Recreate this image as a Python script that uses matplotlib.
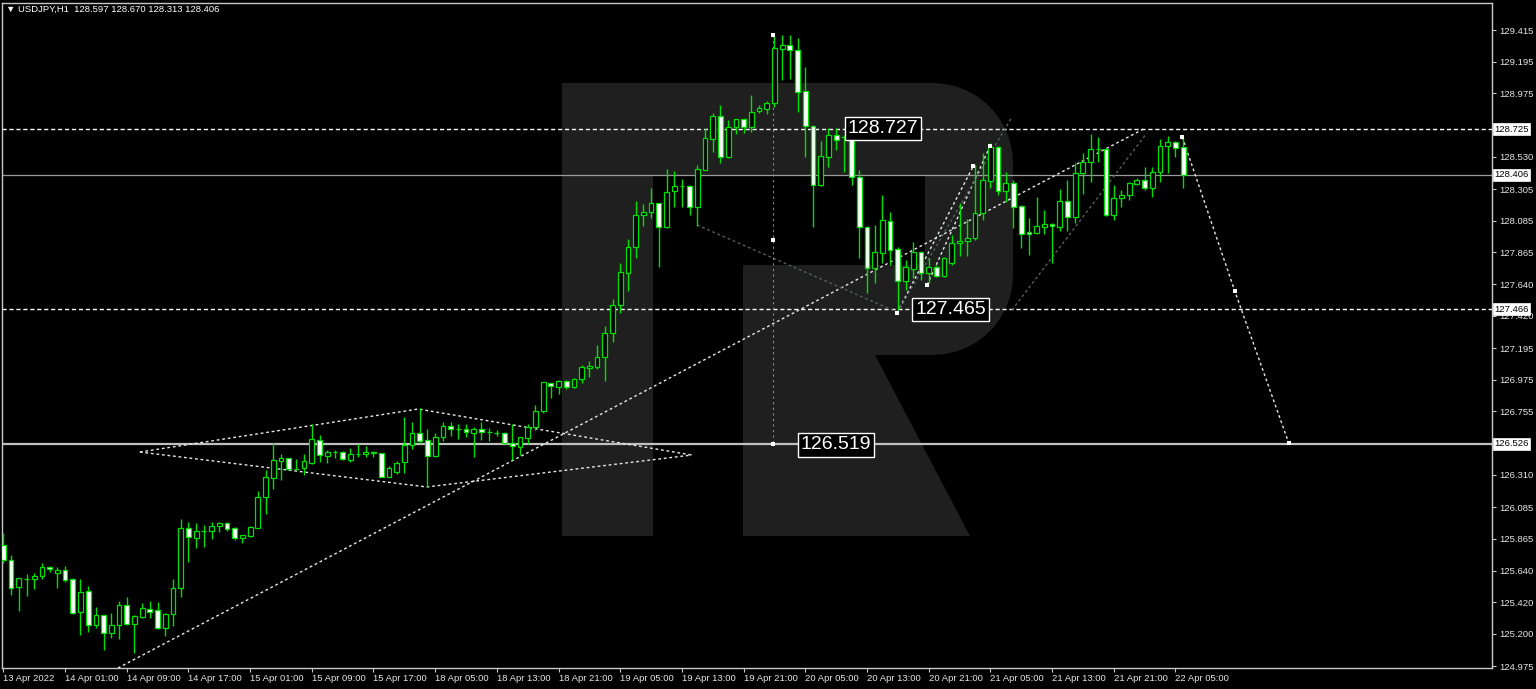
import matplotlib
matplotlib.use("Agg")
import matplotlib.pyplot as plt
import numpy as np
from matplotlib import font_manager
from matplotlib.patches import Polygon
from matplotlib.transforms import Affine2D, blended_transform_factory

W, H = 1536, 689

# USDJPY H1 candles, one per hour (bar index 0 = 13 Apr 2022 17:00)
opens = [125.821, 125.716, 125.528, 125.580, 125.583, 125.604, 125.667, 125.625, 125.646, 125.583,
         125.353, 125.500, 125.262, 125.332, 125.206, 125.262, 125.402, 125.269, 125.318, 125.374,
         125.367, 125.241, 125.339, 125.521, 125.940, 125.870, 125.917, 125.919, 125.954, 125.974,
         125.940, 125.870, 125.884, 125.940, 126.156, 126.289, 126.407, 126.428, 126.350, 126.358,
         126.393, 126.554, 126.442, 126.468, 126.470, 126.414, 126.454, 126.456, 126.470, 126.463,
         126.296, 126.330, 126.400, 126.519, 126.603, 126.554, 126.442, 126.575, 126.652, 126.630,
         126.631, 126.603, 126.631, 126.608, 126.601, 126.603, 126.533, 126.505, 126.568, 126.645,
         126.756, 126.952, 126.924, 126.966, 126.924, 126.980, 127.056, 127.063, 127.133, 127.301,
         127.496, 127.720, 127.901, 128.125, 128.145, 128.208, 128.041, 128.292, 128.325, 128.327,
         128.181, 128.439, 128.655, 128.816, 128.529, 128.739, 128.795, 128.739, 128.851, 128.865,
         128.906, 129.283, 129.311, 129.276, 128.990, 128.746, 128.334, 128.529, 128.683, 128.667,
         128.662, 128.390, 128.041, 127.755, 127.859, 128.083, 127.887, 127.664, 127.748, 127.866,
         127.720, 127.762, 127.699, 127.789, 127.929, 127.943, 127.964, 128.138, 128.362, 128.599,
         128.292, 128.348, 128.188, 128.006, 127.999, 128.041, 128.062, 128.041, 128.222, 128.111,
         128.418, 128.495, 128.583, 128.585, 128.125, 128.243, 128.264, 128.341, 128.369, 128.313,
         128.425, 128.606, 128.634, 128.597]
highs = [125.905, 125.751, 125.592, 125.618, 125.625, 125.695, 125.674, 125.667, 125.674, 125.590,
         125.583, 125.535, 125.388, 125.335, 125.346, 125.430, 125.458, 125.332, 125.416, 125.430,
         125.423, 125.346, 125.583, 126.002, 125.981, 125.974, 125.960, 125.981, 125.981, 125.981,
         125.947, 125.893, 125.954, 126.198, 126.345, 126.533, 126.456, 126.430, 126.421, 126.456,
         126.666, 126.589, 126.484, 126.484, 126.474, 126.498, 126.526, 126.512, 126.477, 126.466,
         126.372, 126.407, 126.714, 126.680, 126.777, 126.631, 126.603, 126.680, 126.680, 126.666,
         126.666, 126.645, 126.680, 126.638, 126.624, 126.610, 126.666, 126.578, 126.666, 126.798,
         126.962, 126.955, 126.973, 126.973, 126.987, 127.077, 127.105, 127.217, 127.350, 127.538,
         127.790, 127.957, 128.222, 128.201, 128.313, 128.212, 128.446, 128.432, 128.376, 128.334,
         128.474, 128.732, 128.837, 128.892, 128.788, 128.798, 128.802, 128.962, 128.892, 128.920,
         129.381, 129.381, 129.381, 129.360, 129.158, 128.750, 128.641, 128.732, 128.732, 128.680,
         128.697, 128.439, 128.045, 128.055, 128.264, 128.145, 127.901, 127.810, 127.936, 127.870,
         127.824, 127.775, 127.831, 127.985, 128.208, 128.097, 128.474, 128.557, 128.627, 128.605,
         128.425, 128.369, 128.194, 128.104, 128.250, 128.160, 128.066, 128.306, 128.369, 128.488,
         128.557, 128.690, 128.669, 128.590, 128.334, 128.299, 128.355, 128.383, 128.460, 128.460,
         128.655, 128.676, 128.640, 128.670]
lows = [125.695, 125.472, 125.360, 125.465, 125.514, 125.583, 125.632, 125.521, 125.562, 125.339,
        125.193, 125.213, 125.241, 125.088, 125.172, 125.165, 125.262, 125.067, 125.311, 125.311,
        125.234, 125.186, 125.255, 125.458, 125.702, 125.800, 125.807, 125.863, 125.912, 125.919,
        125.856, 125.835, 125.877, 125.937, 126.037, 126.212, 126.275, 126.345, 126.343, 126.310,
        126.386, 126.400, 126.393, 126.428, 126.414, 126.400, 126.435, 126.435, 126.435, 126.293,
        126.293, 126.317, 126.324, 126.491, 126.533, 126.226, 126.435, 126.547, 126.582, 126.561,
        126.575, 126.435, 126.554, 126.547, 126.582, 126.526, 126.414, 126.449, 126.526, 126.624,
        126.742, 126.847, 126.875, 126.910, 126.920, 126.952, 126.994, 127.049, 126.966, 127.238,
        127.440, 127.594, 127.824, 128.048, 128.104, 127.762, 128.034, 128.180, 128.180, 128.125,
        128.048, 128.436, 128.564, 128.488, 128.525, 128.690, 128.697, 128.704, 128.837, 128.830,
        128.879, 129.067, 129.074, 128.844, 128.529, 128.041, 128.330, 128.460, 128.578, 128.425,
        128.334, 127.824, 127.580, 127.650, 127.789, 127.775, 127.465, 127.601, 127.685, 127.671,
        127.650, 127.692, 127.692, 127.775, 127.838, 127.838, 127.950, 128.090, 128.313, 128.264,
        128.215, 128.034, 127.894, 127.845, 127.995, 127.992, 127.789, 128.013, 128.013, 128.069,
        128.271, 128.355, 128.495, 128.118, 128.090, 128.181, 128.229, 128.334, 128.299, 128.250,
        128.355, 128.418, 128.529, 128.313]
closes = [125.716, 125.521, 125.590, 125.585, 125.604, 125.667, 125.653, 125.646, 125.576, 125.346,
          125.493, 125.262, 125.332, 125.206, 125.262, 125.402, 125.269, 125.325, 125.381, 125.353,
          125.241, 125.339, 125.521, 125.940, 125.877, 125.919, 125.921, 125.954, 125.974, 125.932,
          125.870, 125.891, 125.947, 126.156, 126.296, 126.414, 126.428, 126.351, 126.352, 126.407,
          126.561, 126.449, 126.470, 126.472, 126.421, 126.456, 126.457, 126.470, 126.463, 126.296,
          126.358, 126.393, 126.519, 126.603, 126.547, 126.442, 126.575, 126.652, 126.631, 126.633,
          126.610, 126.631, 126.610, 126.612, 126.605, 126.533, 126.512, 126.575, 126.645, 126.756,
          126.959, 126.931, 126.966, 126.924, 126.980, 127.063, 127.070, 127.133, 127.301, 127.496,
          127.727, 127.901, 128.125, 128.145, 128.208, 128.041, 128.285, 128.327, 128.329, 128.181,
          128.446, 128.662, 128.816, 128.529, 128.739, 128.795, 128.739, 128.844, 128.872, 128.906,
          129.290, 129.311, 129.276, 128.983, 128.746, 128.334, 128.536, 128.683, 128.648, 128.671,
          128.390, 128.041, 127.755, 127.866, 128.090, 127.880, 127.664, 127.762, 127.866, 127.720,
          127.762, 127.699, 127.824, 127.929, 127.943, 127.964, 128.138, 128.369, 128.599, 128.292,
          128.348, 128.181, 127.992, 127.992, 128.048, 128.062, 128.048, 128.222, 128.111, 128.418,
          128.495, 128.585, 128.587, 128.125, 128.243, 128.264, 128.348, 128.369, 128.313, 128.425,
          128.606, 128.634, 128.592, 128.406]

time_labels = ['13 Apr 2022', '14 Apr 01:00', '14 Apr 09:00', '14 Apr 17:00', '15 Apr 01:00',
               '15 Apr 09:00', '15 Apr 17:00', '18 Apr 05:00', '18 Apr 13:00', '18 Apr 21:00',
               '19 Apr 05:00', '19 Apr 13:00', '19 Apr 21:00', '20 Apr 05:00', '20 Apr 13:00',
               '20 Apr 21:00', '21 Apr 05:00', '21 Apr 13:00', '21 Apr 21:00', '22 Apr 05:00']
price_ticks = [129.415, 129.195, 128.975, 128.530, 128.305, 128.085, 127.865, 127.640, 127.420,
               127.195, 126.975, 126.755, 126.310, 126.085, 125.865, 125.640, 125.420, 125.200, 124.975]

# analysis objects drawn on the chart (bar index, price)
level_hi = 128.725
level_lo = 127.466
level_target = 126.526
bid = 128.406
trend_x, trend_y = [14.86, 148.1], [124.962, 128.732]
diamond_up_x, diamond_up_y = [17.7, 53.8, 89.3], [126.470, 126.770, 126.449]
diamond_dn_x, diamond_dn_y = [17.7, 54.9, 89.3], [126.470, 126.226, 126.449]
fall_x, fall_y = [89.96, 115.9], [128.055, 127.447]
fan1_x, fan1_y = [115.9, 125.8], [127.440, 128.467]
fan2_x, fan2_y = [119.8, 127.96], [127.636, 128.606]
fan3_x, fan3_y = [115.9, 130.8], [127.440, 128.809]
chan_x, chan_y = [130.8, 148.3], [127.461, 128.697]
proj_x, proj_y = [152.9, 159.7, 166.7], [128.669, 127.594, 126.533]
peak_bar, peak_hi, peak_mid = 99.8, 129.381, 127.950

names = {f.name for f in font_manager.fontManager.ttflist}
small_font = ['Liberation Sans', 'DejaVu Sans']
if 'Liberation Sans Narrow' in names:
    big_font, big_size = 'Liberation Sans Narrow', 17
else:
    big_font, big_size = 'Liberation Sans', 14

green = '#00e000'
frame = '#c8c8c8'

fig = plt.figure(figsize=(W / 100, H / 100), dpi=100, facecolor='black')
ax = fig.add_axes([2 / W, 1 - 668 / H, 1490 / W, 665 / H])
ax.set_facecolor('black')
ax.set_xlim(-0.18, 193.06)
ax.set_ylim(124.962, 129.605)

# RoboForex "R" watermark (pixel outline, top-left origin)
def arc(cx, cy, rx, ry, a0, a1, n=12):
    t = np.radians(np.linspace(a0, a1, n))
    return list(zip(cx + rx * np.cos(t), cy + ry * np.sin(t)))

outline = [(562, 83), (933, 83)]
outline += arc(933, 163, 80, 80, -90, 0)
outline += arc(933, 275, 80, 80, 0, 90)
outline += [(875, 355), (970, 536), (743, 536), (743, 265), (925, 265), (925, 175),
            (653, 175), (653, 536), (562, 536)]
px_tr = Affine2D().scale(1 / W, -1 / H).translate(0, 1) + fig.transFigure
ax.add_patch(Polygon(outline, closed=True, fc='#1f1f1f', ec='none', transform=px_tr, zorder=0.5))

# level lines
ax.axhline(level_hi, color='white', lw=1, ls=(0, (3, 2)), zorder=1)
ax.axhline(level_lo, color='white', lw=1, ls=(0, (3, 2)), zorder=1)
ax.axhline(level_target, color='#c0c0c0', lw=1.6, zorder=1)
ax.axhline(bid, color='#9a9a9a', lw=0.9, zorder=1)

dots = dict(color='#e8e8e8', lw=1, ls=(0, (2, 2)), zorder=2)
faint = dict(color='#52605f', lw=1, ls=(0, (2, 2)), zorder=2)
ax.plot(trend_x, trend_y, **dots)
ax.plot(diamond_up_x, diamond_up_y, **dots)
ax.plot(diamond_dn_x, diamond_dn_y, **dots)
ax.plot(fan1_x, fan1_y, **dots)
ax.plot(fan2_x, fan2_y, **dots)
ax.plot(proj_x, proj_y, **dots)
ax.plot(fall_x, fall_y, **faint)
ax.plot(fan3_x, fan3_y, **faint)
ax.plot(chan_x, chan_y, **faint)
ax.plot([peak_bar, peak_bar], [peak_hi, level_target], color='#8a8a8a', lw=0.8,
        ls=(0, (2, 3)), zorder=2)

mk_x = [peak_bar, peak_bar, peak_bar, fan1_x[0], fan2_x[0], fan1_x[1], fan2_x[1]] + proj_x
mk_y = [peak_hi, peak_mid, level_target, fan1_y[0], fan2_y[0], fan1_y[1], fan2_y[1]] + proj_y
ax.scatter(mk_x, mk_y, marker='s', s=6, color='white', zorder=4, linewidths=0)

# candles
o, h, l, c = (np.array(v) for v in (opens, highs, lows, closes))
idx = np.arange(len(o))
ax.vlines(idx, l, h, color=green, lw=1, zorder=3)
bear = c < o
ax.bar(idx, np.maximum(np.abs(c - o), 0.004), width=0.62, bottom=np.minimum(o, c),
       color=np.where(bear, 'white', 'black'), edgecolor=green, linewidth=0.9, zorder=3.5)

# object labels
box = dict(boxstyle='square,pad=0.16', fc='black', ec='white', lw=1)
for bx, by, txt in [(109.5, 128.727, '128.727'), (118.3, 127.465, '127.465'),
                    (103.4, 126.519, '126.519')]:
    ax.text(bx, by, txt, color='white', fontsize=big_size, family=big_font,
            va='center', ha='left', bbox=box, zorder=6)

# axes styling
for sp in ax.spines.values():
    sp.set_color(frame)
    sp.set_linewidth(1)
ax.yaxis.tick_right()
ax.set_yticks(price_ticks)
ax.set_yticklabels(['%.3f' % v for v in price_ticks])
ax.set_xticks(np.arange(0, 8 * len(time_labels), 8))
ax.set_xticklabels(time_labels)
ax.tick_params(axis='both', colors=frame, labelcolor='#e6e6e6', labelsize=6.8,
               length=3, width=0.8, direction='out')
ax.tick_params(axis='y', pad=2)
ax.tick_params(axis='x', pad=1.5)
for lbl in ax.get_xticklabels() + ax.get_yticklabels():
    lbl.set_family(small_font)
for lbl in ax.get_xticklabels():
    lbl.set_ha('left')

tr = blended_transform_factory(ax.transAxes, ax.transData)
for v in [level_hi, bid, level_lo, level_target]:
    ax.text(1.0015, v, '%.3f' % v, transform=tr, fontsize=6.8, family=small_font,
            color='black', va='center', ha='left', clip_on=False, zorder=7,
            bbox=dict(boxstyle='square,pad=0.15', fc='white', ec='white', lw=0.5))

fig.text(6 / W, 1 - 9 / H, '\u25bc USDJPY,H1  128.597 128.670 128.313 128.406',
         fontsize=6.8, family=small_font, color='white', va='center', ha='left')

fig.savefig('out.png', dpi=100, facecolor='black')
